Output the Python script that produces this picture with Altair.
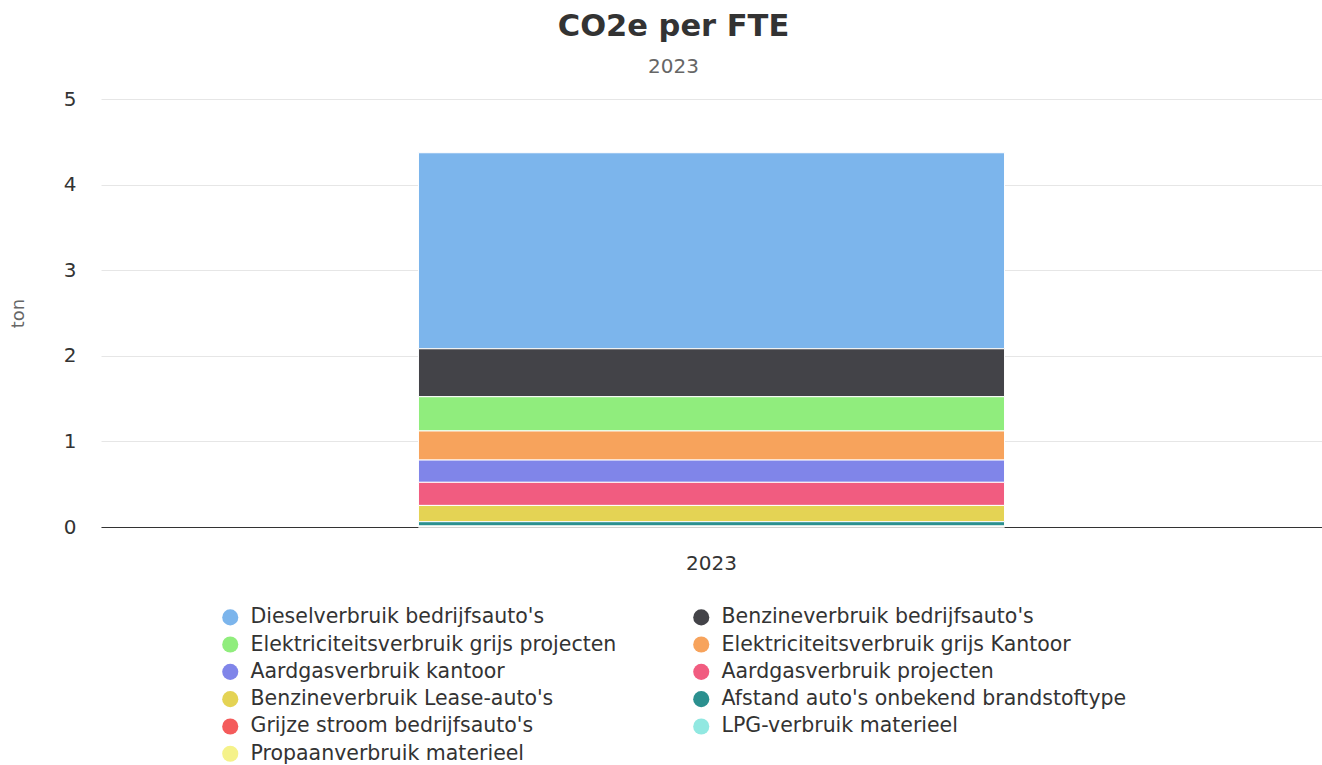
import altair as alt
import pandas as pd

# CO2e per FTE in 2023, split by emission source (ton)
year = "2023"
sources = [
    "Dieselverbruik bedrijfsauto's",
    "Benzineverbruik bedrijfsauto's",
    "Elektriciteitsverbruik grijs projecten",
    "Elektriciteitsverbruik grijs Kantoor",
    "Aardgasverbruik kantoor",
    "Aardgasverbruik projecten",
    "Benzineverbruik Lease-auto's",
    "Afstand auto's onbekend brandstoftype",
    "Grijze stroom bedrijfsauto's",
    "LPG-verbruik materieel",
    "Propaanverbruik materieel",
]
values = [2.29, 0.56, 0.40, 0.34, 0.26, 0.27, 0.19, 0.05, 0.006, 0.004, 0.002]
colors = [
    "#7cb5ec", "#434348", "#90ed7d", "#f7a35c", "#8085e9", "#f15c80",
    "#e4d354", "#2b908f", "#f45b5b", "#91e8e1", "#f5f28a",
]

df = pd.DataFrame({
    "jaar": [year] * len(sources),
    "bron": sources,
    "ton": values,
    # first series ends up on top of the stack
    "volgorde": list(range(len(sources), 0, -1)),
})

font = "DejaVu Sans"

chart = (
    alt.Chart(df)
    .mark_bar(stroke="white", strokeWidth=1)
    .encode(
        x=alt.X(
            "jaar:N",
            title=None,
            scale=alt.Scale(paddingInner=0.52, paddingOuter=0.26),
            axis=alt.Axis(
                labelAngle=0, labelFontSize=20, labelColor="#333333",
                labelPadding=26, ticks=False, domainColor="#333333",
                domainWidth=1, grid=False, labelFont=font,
            ),
        ),
        y=alt.Y(
            "ton:Q",
            stack="zero",
            title="ton",
            scale=alt.Scale(domain=[0, 5], nice=False),
            axis=alt.Axis(
                values=[0, 1, 2, 3, 4, 5], format="d", domain=False, ticks=False,
                labelFontSize=20, labelColor="#333333", labelPadding=25,
                labelFont=font, gridColor="#e6e6e6", gridWidth=1,
                titleFontSize=18, titleColor="#666666", titleFontWeight="normal",
                titleFont=font, titlePadding=36,
            ),
        ),
        color=alt.Color(
            "bron:N",
            scale=alt.Scale(domain=sources, range=colors),
            legend=alt.Legend(
                title=None, orient="none", legendX=119, legendY=508,
                direction="horizontal", columns=2, columnPadding=74,
                rowPadding=6.3, symbolType="circle", symbolSize=260,
                symbolStrokeWidth=0, symbolOpacity=1, labelFontSize=20.5,
                labelColor="#333333", labelFont=font, labelLimit=600,
                labelOffset=10,
            ),
        ),
        order=alt.Order("volgorde:Q", sort="ascending"),
        tooltip=["bron:N", "ton:Q"],
    )
    .properties(
        width=1221,
        height=428,
        padding={"left": 101, "top": 99, "right": 0, "bottom": 238},
        autosize=alt.AutoSizeParams(type="none"),
        title=alt.TitleParams(
            text="CO2e per FTE",
            subtitle=year,
            anchor="middle",
            dx=-38,
            offset=12,
            fontSize=30.5,
            fontWeight="bold",
            color="#333333",
            font=font,
            subtitleFont=font,
            subtitleFontSize=20,
            subtitleColor="#666666",
            subtitlePadding=15,
        ),
    )
    .configure_view(stroke=None)
)

chart.save("out.html", embed_options={"renderer": "svg", "actions": False})
